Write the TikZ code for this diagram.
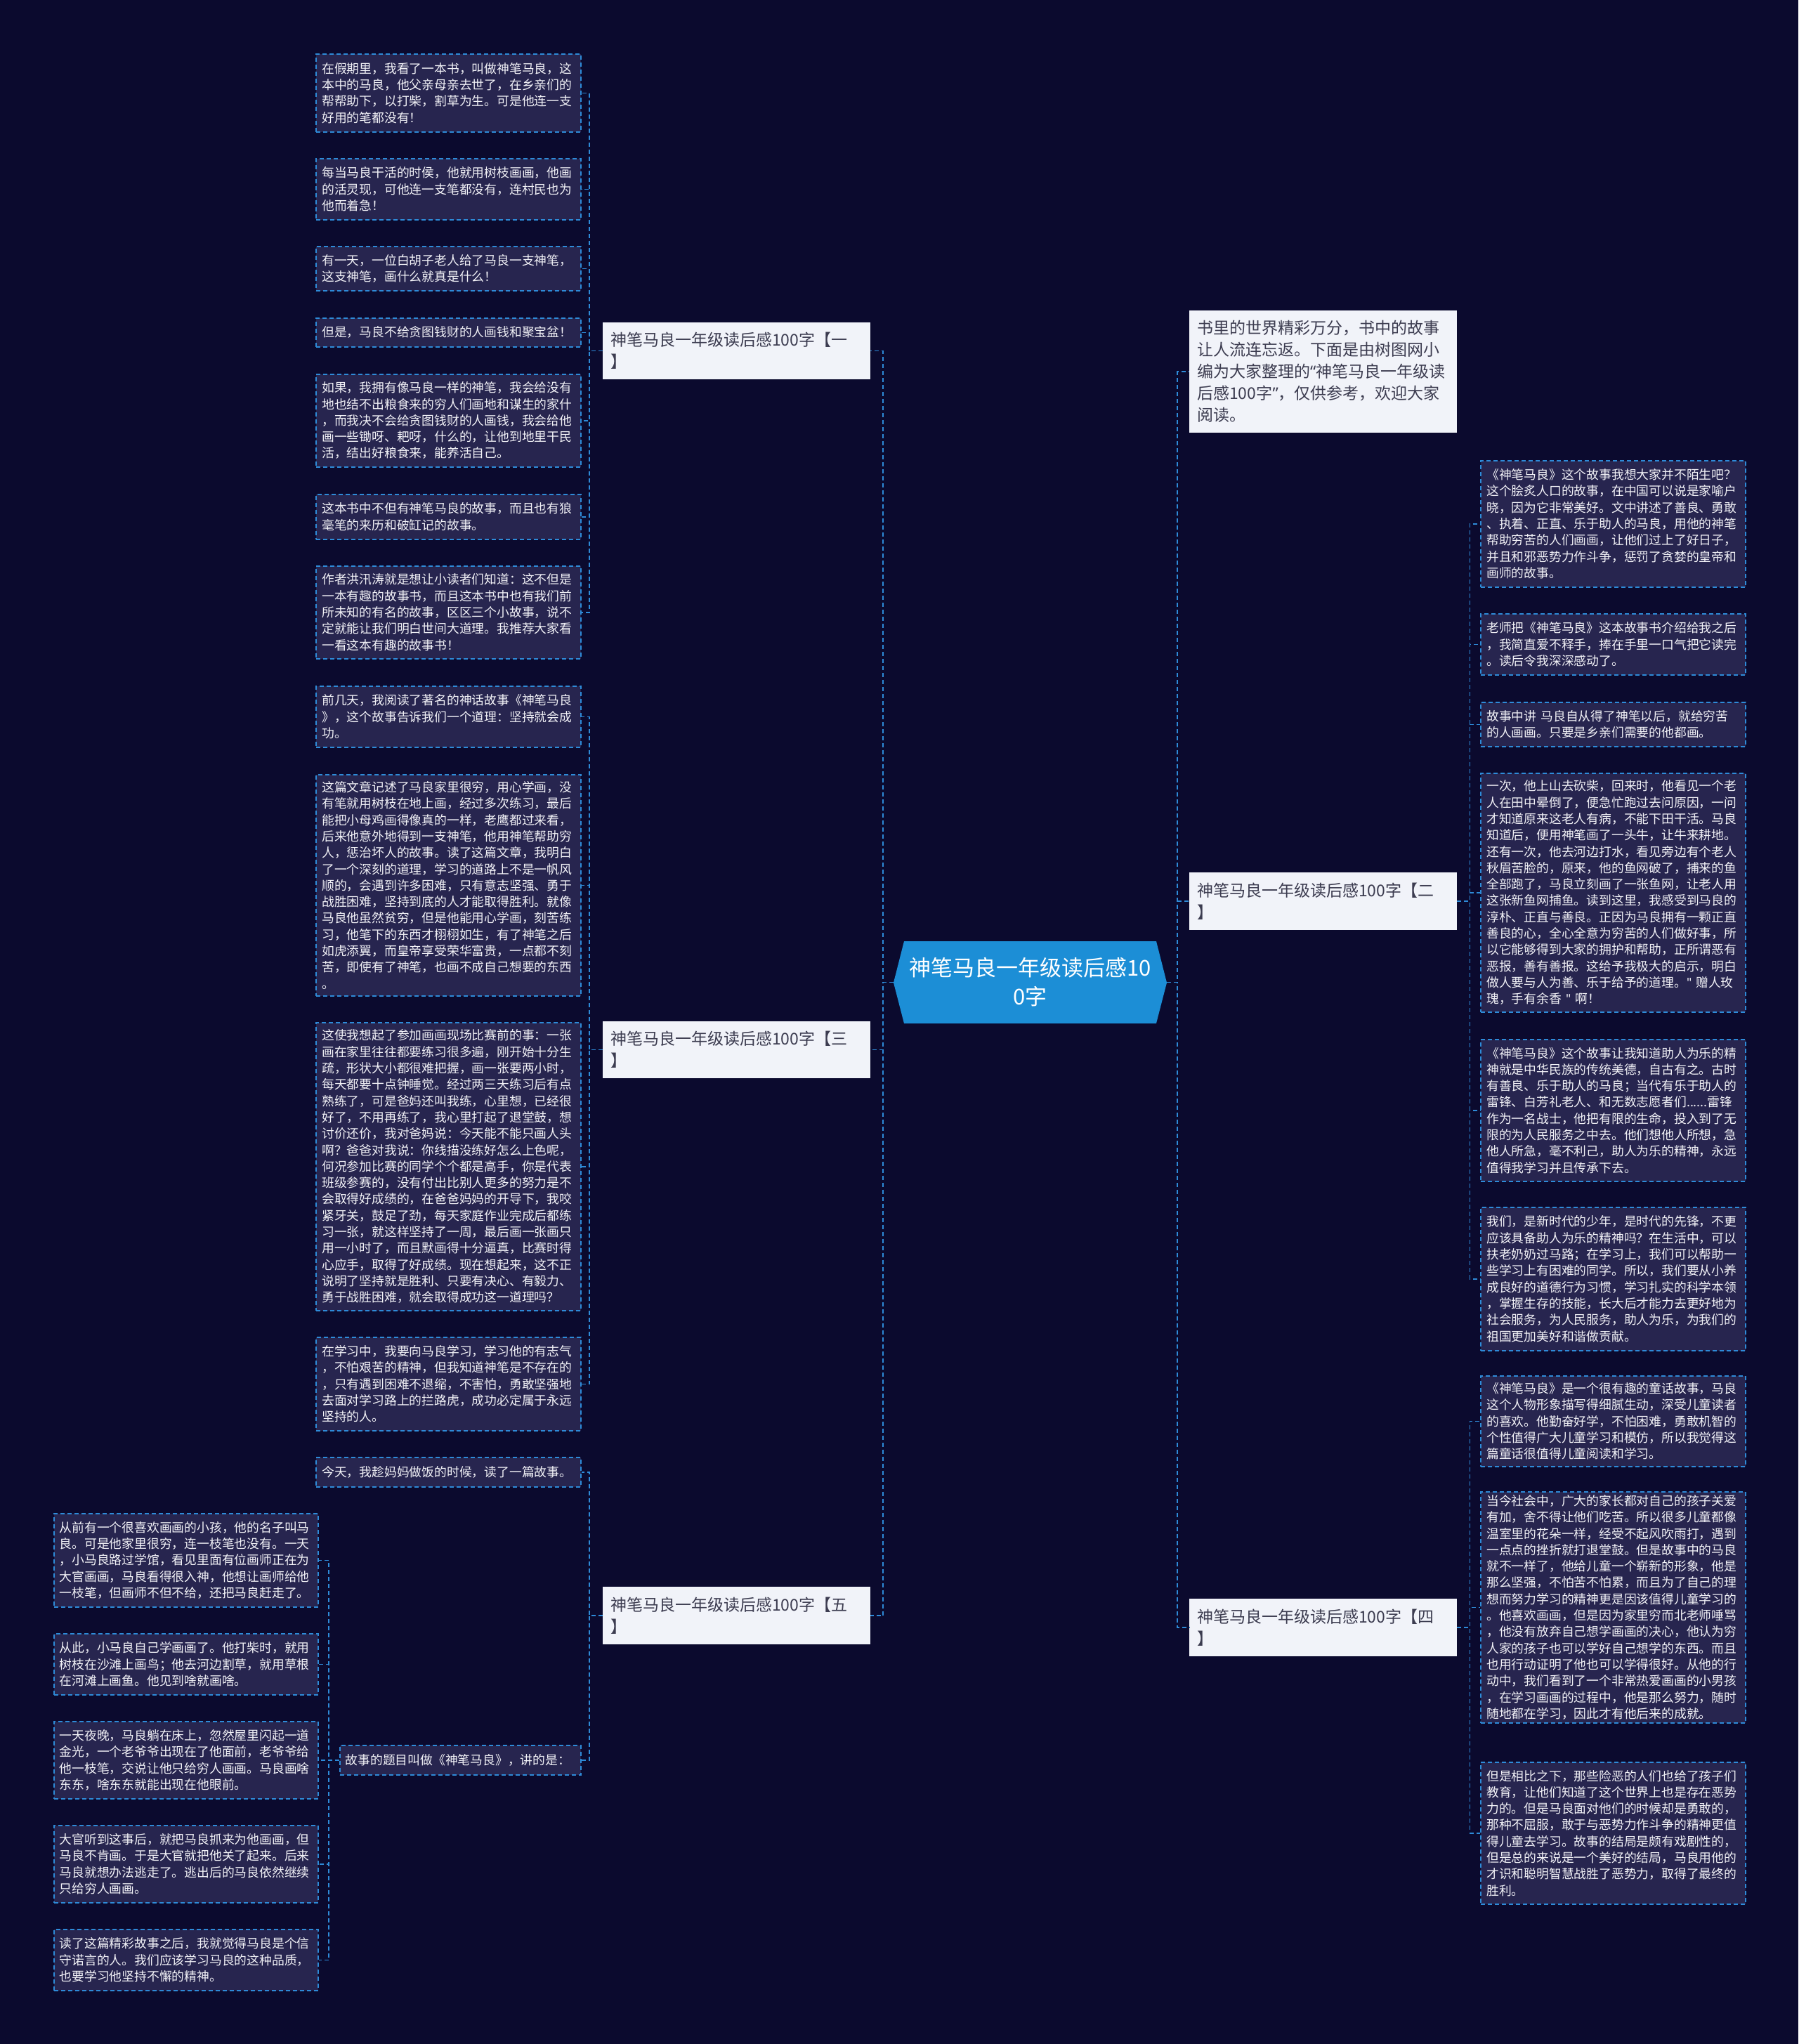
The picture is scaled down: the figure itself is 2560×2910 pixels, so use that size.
\documentclass[tikz,border=0pt]{standalone}
\usepackage{fontspec}
\setmainfont{Noto Sans CJK SC}
\newfontfamily\latinq{Noto Sans}
\definecolor{bgc}{HTML}{0B0A2E}
\definecolor{leaffill}{HTML}{27254F}
\definecolor{lineblue}{HTML}{2E8BD8}
\definecolor{leaftext}{HTML}{F2F2F7}
\definecolor{catfill}{HTML}{F1F3F9}
\definecolor{cattext}{HTML}{3C3C50}
\definecolor{centerfill}{HTML}{1C8ED6}
\tikzset{
  leaf/.style={draw=lineblue, dash pattern=on 6pt off 4pt, line width=1.5pt, fill=leaffill,
    text=leaftext, font=\fontsize{17.8}{23.3}\selectfont, align=left, anchor=north west,
    inner xsep=8pt, inner ysep=0pt, text width=360pt, minimum width=377pt},
  catbox/.style={fill=catfill, text=cattext, font=\fontsize{23}{31}\selectfont, align=left,
    anchor=north west, inner xsep=11pt, inner ysep=0pt, text width=359pt, minimum width=381pt},
  conn/.style={draw=lineblue, dash pattern=on 6pt off 4pt, line width=1.5pt}
}
\begin{document}
\begin{tikzpicture}[x=1pt,y=-1pt]
\fill[bgc] (0,0) rectangle (2560,2910);
\useasboundingbox (0,0) rectangle (2560,2910);

% center
\fill[centerfill] (1287,1340) -- (1646,1340) -- (1661,1399) -- (1646,1457) -- (1287,1457) -- (1272,1399) -- cycle;
\node[text=white, font=\fontsize{31}{41}\selectfont, align=center, minimum width=389pt, minimum height=117pt, inner sep=0pt] (center) at (1466.5,1398.5) {神笔马良一年级读后感10\\0字};

% right side
\node[catbox, minimum height=174pt] (intro) at (1693,442) {书里的世界精彩万分，书中的故事\\让人流连忘返。下面是由树图网小\\编为大家整理的{\latinq“}神笔马良一年级读\\后感100字{\latinq”}，仅供参考，欢迎大家\\阅读。};
\node[catbox, minimum height=82pt] (cat2) at (1693,1242) {神笔马良一年级读后感100字【二\\】};
\node[catbox, minimum height=82pt] (cat4) at (1693,2276) {神笔马良一年级读后感100字【四\\】};

\node[leaf, minimum height=180pt] (r1) at (2107,655) {《神笔马良》这个故事我想大家并不陌生吧？\\这个脍炙人口的故事，在中国可以说是家喻户\\晓，因为它非常美好。文中讲述了善良、勇敢\\、执着、正直、乐于助人的马良，用他的神笔\\帮助穷苦的人们画画，让他们过上了好日子，\\并且和邪恶势力作斗争，惩罚了贪婪的皇帝和\\画师的故事。};
\node[leaf, minimum height=87pt] (r2) at (2107,873) {老师把《神笔马良》这本故事书介绍给我之后\\，我简直爱不释手，捧在手里一口气把它读完\\。读后令我深深感动了。};
\node[leaf, minimum height=63pt] (r3) at (2107,999) {故事中讲 马良自从得了神笔以后，就给穷苦\\的人画画。只要是乡亲们需要的他都画。};
\node[leaf, minimum height=340pt] (r4) at (2107,1100) {一次，他上山去砍柴，回来时，他看见一个老\\人在田中晕倒了，便急忙跑过去问原因，一问\\才知道原来这老人有病，不能下田干活。马良\\知道后，便用神笔画了一头牛，让牛来耕地。\\还有一次，他去河边打水，看见旁边有个老人\\秋眉苦脸的，原来，他的鱼网破了，捕来的鱼\\全部跑了，马良立刻画了一张鱼网，让老人用\\这张新鱼网捕鱼。读到这里，我感受到马良的\\淳朴、正直与善良。正因为马良拥有一颗正直\\善良的心，全心全意为穷苦的人们做好事，所\\以它能够得到大家的拥护和帮助，正所谓恶有\\恶报，善有善报。这给予我极大的启示，明白\\做人要与人为善、乐于给予的道理。{\latinq"}~赠人玫\\瑰，手有余香~{\latinq"}~啊！};
\node[leaf, minimum height=202pt] (r5) at (2107,1479) {《神笔马良》这个故事让我知道助人为乐的精\\神就是中华民族的传统美德，自古有之。古时\\有善良、乐于助人的马良；当代有乐于助人的\\雷锋、白芳礼老人、和无数志愿者们......雷锋\\作为一名战士，他把有限的生命，投入到了无\\限的为人民服务之中去。他们想他人所想，急\\他人所急，毫不利己，助人为乐的精神，永远\\值得我学习并且传承下去。};
\node[leaf, minimum height=204pt] (r6) at (2107,1718) {我们，是新时代的少年，是时代的先锋，不更\\应该具备助人为乐的精神吗？在生活中，可以\\扶老奶奶过马路；在学习上，我们可以帮助一\\些学习上有困难的同学。所以，我们要从小养\\成良好的道德行为习惯，学习扎实的科学本领\\，掌握生存的技能，长大后才能力去更好地为\\社会服务，为人民服务，助人为乐，为我们的\\祖国更加美好和谐做贡献。};
\node[leaf, minimum height=129pt] (r7) at (2107,1958) {《神笔马良》是一个很有趣的童话故事，马良\\这个人物形象描写得细腻生动，深受儿童读者\\的喜欢。他勤奋好学，不怕困难，勇敢机智的\\个性值得广大儿童学习和模仿，所以我觉得这\\篇童话很值得儿童阅读和学习。};
\node[leaf, minimum height=329pt] (r8) at (2107,2123) {当今社会中，广大的家长都对自己的孩子关爱\\有加，舍不得让他们吃苦。所以很多儿童都像\\温室里的花朵一样，经受不起风吹雨打，遇到\\一点点的挫折就打退堂鼓。但是故事中的马良\\就不一样了，他给儿童一个崭新的形象，他是\\那么坚强，不怕苦不怕累，而且为了自己的理\\想而努力学习的精神更是因该值得儿童学习的\\。他喜欢画画，但是因为家里穷而北老师唾骂\\，他没有放弃自己想学画画的决心，他认为穷\\人家的孩子也可以学好自己想学的东西。而且\\也用行动证明了他也可以学得很好。从他的行\\动中，我们看到了一个非常热爱画画的小男孩\\，在学习画画的过程中，他是那么努力，随时\\随地都在学习，因此才有他后来的成就。};
\node[leaf, minimum height=202pt] (r9) at (2107,2508) {但是相比之下，那些险恶的人们也给了孩子们\\教育，让他们知道了这个世界上也是存在恶势\\力的。但是马良面对他们的时候却是勇敢的，\\那种不屈服，敢于与恶势力作斗争的精神更值\\得儿童去学习。故事的结局是颇有戏剧性的，\\但是总的来说是一个美好的结局，马良用他的\\才识和聪明智慧战胜了恶势力，取得了最终的\\胜利。};

% left side
\node[catbox, minimum height=81pt] (cat1) at (858,459) {神笔马良一年级读后感100字【一\\】};
\node[catbox, minimum height=81pt] (cat3) at (858,1454) {神笔马良一年级读后感100字【三\\】};
\node[catbox, minimum height=82pt] (cat5) at (858,2259) {神笔马良一年级读后感100字【五\\】};

\node[leaf, minimum height=111pt] (a1) at (449,76) {在假期里，我看了一本书，叫做神笔马良，这\\本中的马良，他父亲母亲去世了，在乡亲们的\\帮帮助下，以打柴，割草为生。可是他连一支\\好用的笔都没有！};
\node[leaf, minimum height=87pt] (a2) at (449,225) {每当马良干活的时侯，他就用树枝画画，他画\\的活灵现，可他连一支笔都没有，连村民也为\\他而着急！};
\node[leaf, minimum height=63pt] (a3) at (449,350) {有一天，一位白胡子老人给了马良一支神笔，\\这支神笔，画什么就真是什么！};
\node[leaf, minimum height=41pt] (a4) at (449,452) {但是，马良不给贪图钱财的人画钱和聚宝盆！};
\node[leaf, minimum height=132pt] (a5) at (449,532) {如果，我拥有像马良一样的神笔，我会给没有\\地也结不出粮食来的穷人们画地和谋生的家什\\，而我决不会给贪图钱财的人画钱，我会给他\\画一些锄呀、耙呀，什么的，让他到地里干民\\活，结出好粮食来，能养活自己。};
\node[leaf, minimum height=64pt] (a6) at (449,703) {这本书中不但有神笔马良的故事，而且也有狼\\毫笔的来历和破缸记的故事。};
\node[leaf, minimum height=132pt] (a7) at (449,805) {作者洪汛涛就是想让小读者们知道：这不但是\\一本有趣的故事书，而且这本书中也有我们前\\所未知的有名的故事，区区三个小故事，说不\\定就能让我们明白世间大道理。我推荐大家看\\一看这本有趣的故事书！};
\node[leaf, minimum height=87pt] (a8) at (449,976) {前几天，我阅读了著名的神话故事《神笔马良\\》，这个故事告诉我们一个道理：坚持就会成\\功。};
\node[leaf, minimum height=315pt] (a9) at (449,1102) {这篇文章记述了马良家里很穷，用心学画，没\\有笔就用树枝在地上画，经过多次练习，最后\\能把小母鸡画得像真的一样，老鹰都过来看，\\后来他意外地得到一支神笔，他用神笔帮助穷\\人，惩治坏人的故事。读了这篇文章，我明白\\了一个深刻的道理，学习的道路上不是一帆风\\顺的，会遇到许多困难，只有意志坚强、勇于\\战胜困难，坚持到底的人才能取得胜利。就像\\马良他虽然贫穷，但是他能用心学画，刻苦练\\习，他笔下的东西才栩栩如生，有了神笔之后\\如虎添翼，而皇帝享受荣华富贵，一点都不刻\\苦，即使有了神笔，也画不成自己想要的东西\\。};
\node[leaf, minimum height=410pt] (a10) at (449,1455) {这使我想起了参加画画现场比赛前的事：一张\\画在家里往往都要练习很多遍，刚开始十分生\\疏，形状大小都很难把握，画一张要两小时，\\每天都要十点钟睡觉。经过两三天练习后有点\\熟练了，可是爸妈还叫我练，心里想，已经很\\好了，不用再练了，我心里打起了退堂鼓，想\\讨价还价，我对爸妈说：今天能不能只画人头\\啊？爸爸对我说：你线描没练好怎么上色呢，\\何况参加比赛的同学个个都是高手，你是代表\\班级参赛的，没有付出比别人更多的努力是不\\会取得好成绩的，在爸爸妈妈的开导下，我咬\\紧牙关，鼓足了劲，每天家庭作业完成后都练\\习一张，就这样坚持了一周，最后画一张画只\\用一小时了，而且默画得十分逼真，比赛时得\\心应手，取得了好成绩。现在想起来，这不正\\说明了坚持就是胜利、只要有决心、有毅力、\\勇于战胜困难，就会取得成功这一道理吗？};
\node[leaf, minimum height=133pt] (a11) at (449,1903) {在学习中，我要向马良学习，学习他的有志气\\，不怕艰苦的精神，但我知道神笔是不存在的\\，只有遇到困难不退缩，不害怕，勇敢坚强地\\去面对学习路上的拦路虎，成功必定属于永远\\坚持的人。};
\node[leaf, minimum height=42pt] (a12) at (449,2074) {今天，我趁妈妈做饭的时候，读了一篇故事。};
\node[leaf, minimum height=42pt, text width=327pt, minimum width=343pt] (story) at (483,2484) {故事的题目叫做《神笔马良》，讲的是：};

\node[leaf, minimum height=133pt, minimum width=376pt] (b1) at (76,2154) {从前有一个很喜欢画画的小孩，他的名子叫马\\良。可是他家里很穷，连一枝笔也没有。一天\\，小马良路过学馆，看见里面有位画师正在为\\大官画画，马良看得很入神，他想让画师给他\\一枝笔，但画师不但不给，还把马良赶走了。};
\node[leaf, minimum height=87pt, minimum width=376pt] (b2) at (76,2325) {从此，小马良自己学画画了。他打柴时，就用\\树枝在沙滩上画鸟；他去河边割草，就用草根\\在河滩上画鱼。他见到啥就画啥。};
\node[leaf, minimum height=110pt, minimum width=376pt] (b3) at (76,2450) {一天夜晚，马良躺在床上，忽然屋里闪起一道\\金光，一个老爷爷出现在了他面前，老爷爷给\\他一枝笔，交说让他只给穷人画画。马良画啥\\东东，啥东东就能出现在他眼前。};
\node[leaf, minimum height=110pt, minimum width=376pt] (b4) at (76,2598) {大官听到这事后，就把马良抓来为他画画，但\\马良不肯画。于是大官就把他关了起来。后来\\马良就想办法逃走了。逃出后的马良依然继续\\只给穷人画画。};
\node[leaf, minimum height=87pt, minimum width=376pt] (b5) at (76,2746) {读了这篇精彩故事之后，我就觉得马良是个信\\守诺言的人。我们应该学习马良的这种品质，\\也要学习他坚持不懈的精神。};

% connectors
\foreach \n in {intro,cat2,cat4} \draw[conn] (center.east) -- ++(15,0) |- (\n.west);
\foreach \n in {cat1,cat3,cat5} \draw[conn] (center.west) -- ++(-15,0) |- (\n.east);
\foreach \n in {r1,r2,r3,r4,r5,r6} \draw[conn] (cat2.east) -- ++(18,0) |- (\n.west);
\foreach \n in {r7,r8,r9} \draw[conn] (cat4.east) -- ++(18,0) |- (\n.west);
\foreach \n in {a1,a2,a3,a4,a5,a6,a7} \draw[conn] (cat1.west) -- ++(-19,0) |- (\n.east);
\foreach \n in {a8,a9,a10,a11} \draw[conn] (cat3.west) -- ++(-19,0) |- (\n.east);
\foreach \n in {a12,story} \draw[conn] (cat5.west) -- ++(-19,0) |- (\n.east);
\foreach \n in {b1,b2,b3,b4,b5} \draw[conn] (story.west) -- ++(-15,0) |- (\n.east);
\end{tikzpicture}
\end{document}
